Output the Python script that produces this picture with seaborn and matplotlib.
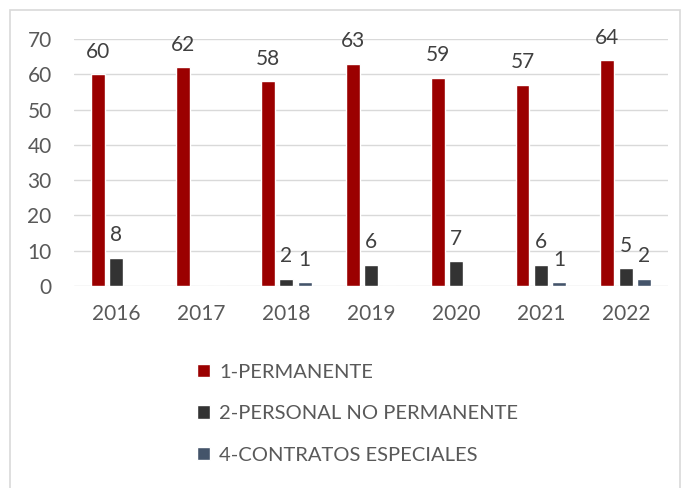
import pandas as pd
import matplotlib.pyplot as plt
import seaborn as sns
from matplotlib.patches import Rectangle, Patch

years = ["2016", "2017", "2018", "2019", "2020", "2021", "2022"]
permanente = [60, 62, 58, 63, 59, 57, 64]
no_permanente = [8, 0, 2, 6, 7, 6, 5]
contratos = [0, 0, 1, 0, 0, 1, 2]
series_names = ["1-PERMANENTE", "2-PERSONAL NO PERMANENTE", "4-CONTRATOS ESPECIALES"]
colors = ["#9B0000", "#333333", "#44546A"]

rows = []
for name, vals in zip(series_names, [permanente, no_permanente, contratos]):
    for y, v in zip(years, vals):
        rows.append({"year": y, "tipo": name, "n": v})
df = pd.DataFrame(rows)

sns.set_style("white")
plt.rcParams["font.family"] = ["Lato", "DejaVu Sans"]
text_color = "#595959"

fig = plt.figure(figsize=(6.84, 4.88), dpi=100)
ax = fig.add_axes([0.108, 0.414, 0.869, 0.506])

sns.barplot(data=df, x="year", y="n", hue="tipo", palette=colors,
            width=0.65, gap=0.24, saturation=1, ax=ax, legend=False)

for cont in ax.containers:
    labels = [f"{int(b.get_height())}" if b.get_height() > 0 else "" for b in cont]
    ax.bar_label(cont, labels=labels, padding=9, fontsize=15, color="#404040")

ax.set_ylim(0, 70)
ax.set_yticks(range(0, 71, 10))
ax.set_xlabel("")
ax.set_ylabel("")
ax.grid(axis="y", color="#D9D9D9", linewidth=1)
ax.set_axisbelow(True)
for s in ax.spines.values():
    s.set_visible(False)
ax.tick_params(axis="both", length=0, labelsize=15, labelcolor=text_color)
ax.tick_params(axis="x", pad=13)
ax.tick_params(axis="y", pad=16)

handles = [Patch(facecolor=c, label=n) for c, n in zip(colors, series_names)]
fig.legend(handles=handles, loc="upper left", bbox_to_anchor=(0.262, 0.292),
           frameon=False, fontsize=14.5, labelcolor=text_color,
           handlelength=0.65, handleheight=0.65, handletextpad=0.45,
           labelspacing=1.22)

fig.patches.append(Rectangle((10 / 684, -0.01), 670 / 684, 1 - 10 / 488 + 0.01,
                             transform=fig.transFigure, fill=False,
                             edgecolor="#D9D9D9", linewidth=1.2))

fig.savefig("out.png", dpi=100)
